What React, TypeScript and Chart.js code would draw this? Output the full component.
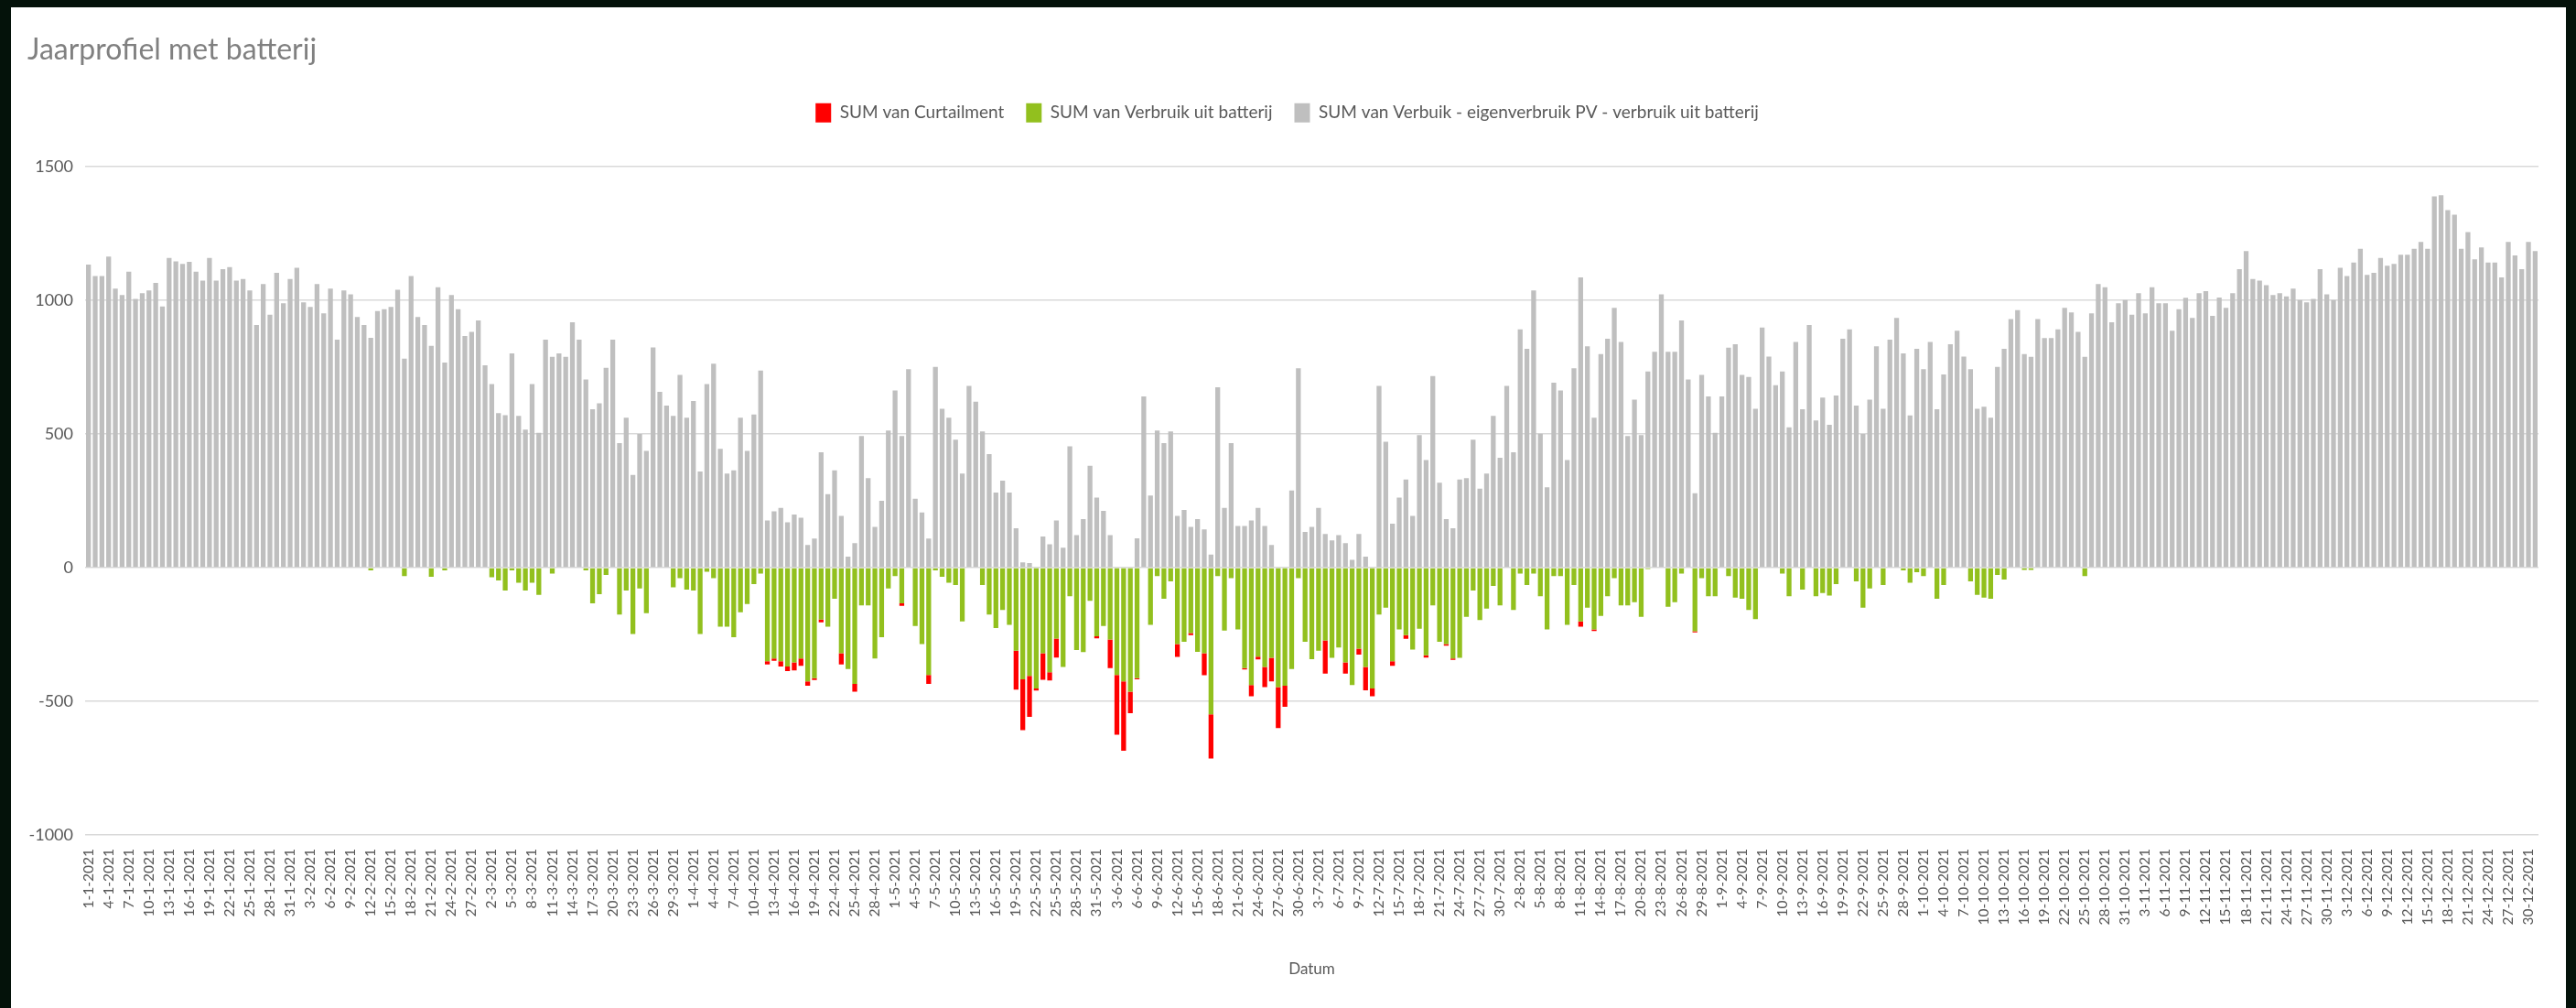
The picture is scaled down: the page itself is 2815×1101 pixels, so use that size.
import { useEffect, useRef } from 'react';
import { Chart, registerables } from 'chart.js';

Chart.register(...registerables);

const CHART_TITLE = 'Jaarprofiel met batterij';
const X_TITLE = 'Datum';
const NAME_BATTERY = 'SUM van Verbruik uit batterij';
const NAME_CURTAIL = 'SUM van Curtailment';
const NAME_GRID = 'SUM van Verbuik - eigenverbruik PV - verbruik uit batterij';

const Y_MIN = -1000;
const Y_MAX = 1500;
const Y_STEP = 500;

const YEAR = 2021;
const MONTH_LENGTHS = [31, 28, 31, 30, 31, 30, 31, 31, 30, 31, 30, 31];
const DATES: string[] = [];
MONTH_LENGTHS.forEach((n, m) => {
  for (let d = 1; d <= n; d++) DATES.push(`${d}-${m + 1}-${YEAR}`);
});

// Grey: Verbruik - eigenverbruik PV - verbruik uit batterij (one value per day)
const GRID_USE: number[] = [
  1134, 1091, 1091, 1164, 1044, 1020, 1108, 1006, 1027, 1037, // 0
  1066, 977, 1159, 1146, 1137, 1144, 1108, 1074, 1159, 1074, // 10
  1117, 1125, 1074, 1080, 1037, 908, 1061, 947, 1103, 989, // 20
  1080, 1122, 993, 976, 1061, 952, 1044, 853, 1037, 1023, // 30
  938, 908, 860, 960, 967, 976, 1040, 782, 1091, 938, // 40
  908, 830, 1049, 768, 1020, 967, 867, 882, 925, 757, // 50
  687, 578, 571, 802, 568, 517, 687, 505, 853, 789, // 60
  802, 789, 918, 853, 704, 593, 615, 748, 853, 466, // 70
  561, 347, 500, 437, 824, 658, 607, 568, 721, 561, // 80
  624, 360, 687, 763, 445, 352, 364, 561, 437, 573, // 90
  738, 177, 211, 224, 170, 199, 187, 85, 109, 432, // 100
  275, 364, 194, 41, 92, 493, 335, 153, 250, 513, // 110
  663, 493, 743, 258, 207, 109, 751, 595, 561, 479, // 120
  352, 680, 621, 510, 425, 281, 326, 281, 148, 20, // 130
  17, 3, 117, 88, 177, 75, 454, 122, 182, 381, // 140
  262, 213, 122, 0, 0, 0, 110, 641, 270, 513, // 150
  466, 510, 194, 216, 153, 182, 143, 49, 675, 224, // 160
  466, 156, 156, 177, 224, 156, 85, 3, 0, 289, // 170
  746, 134, 153, 224, 126, 102, 122, 92, 29, 126, // 180
  41, 3, 680, 471, 165, 262, 330, 194, 496, 403, // 190
  717, 318, 182, 148, 330, 335, 479, 296, 352, 568, // 200
  411, 680, 432, 892, 819, 1037, 501, 301, 692, 663, // 210
  403, 746, 1086, 828, 561, 799, 857, 972, 845, 493, // 220
  629, 496, 734, 808, 1023, 808, 808, 925, 704, 279, // 230
  721, 641, 505, 641, 823, 836, 721, 714, 595, 899, // 240
  790, 683, 734, 525, 845, 593, 908, 551, 637, 535, // 250
  644, 857, 892, 607, 500, 629, 828, 595, 853, 935, // 260
  802, 570, 819, 743, 845, 593, 723, 836, 887, 790, // 270
  743, 595, 602, 561, 751, 819, 930, 964, 799, 789, // 280
  930, 859, 859, 892, 972, 955, 882, 789, 952, 1061, // 290
  1049, 918, 989, 1001, 947, 1027, 952, 1049, 989, 989, // 300
  887, 967, 1010, 935, 1027, 1035, 942, 1011, 972, 1027, // 310
  1117, 1185, 1080, 1074, 1057, 1020, 1027, 1015, 1044, 1001, // 320
  993, 1006, 1117, 1023, 1001, 1122, 1091, 1142, 1193, 1096, // 330
  1103, 1159, 1130, 1137, 1171, 1171, 1193, 1219, 1193, 1389, // 340
  1394, 1338, 1321, 1193, 1256, 1154, 1198, 1142, 1142, 1086, // 350
  1219, 1168, 1117, 1219, 1185, // 360
];

// Green: Verbruik uit batterij (negative)
const BATTERY: number[] = [
  0, 0, 0, 0, 0, 0, 0, 0, 0, 0, // 0
  0, 0, 0, 0, 0, 0, 0, 0, 0, 0, // 10
  0, 0, 0, 0, 0, 0, 0, 0, 0, 0, // 20
  0, 0, 0, 0, 0, 0, 0, 0, 0, 0, // 30
  0, 0, -10, 0, 0, 0, 0, -31, 0, 0, // 40
  0, -34, 0, -10, 0, 0, 0, 0, 0, 0, // 50
  -36, -48, -85, -10, -56, -85, -56, -102, 0, -22, // 60
  0, 0, 0, 0, -10, -133, -99, -27, 0, -175, // 70
  -85, -248, -78, -170, 0, 0, 0, -73, -39, -82, // 80
  -85, -248, -15, -39, -221, -221, -260, -167, -136, -61, // 90
  -22, -350, -340, -350, -370, -354, -340, -425, -413, -194, // 100
  -221, -116, -320, -379, -435, -141, -141, -340, -260, -78, // 110
  -31, -133, 0, -218, -286, -401, -10, -34, -56, -65, // 120
  -201, 0, 0, -65, -175, -226, -158, -214, -311, -418, // 130
  -405, -452, -320, -391, -265, -371, -107, -308, -316, -124, // 140
  -257, -218, -269, -401, -425, -464, -413, 0, -214, -31, // 150
  -116, -51, -286, -277, -245, -315, -320, -549, -31, -235, // 160
  -39, -231, -376, -439, -333, -371, -337, -447, -442, -379, // 170
  -39, -277, -342, -311, -272, -337, -299, -354, -439, -303, // 180
  -371, -452, -175, -150, -350, -231, -252, -306, -228, -328, // 190
  -141, -277, -286, -340, -337, -184, -85, -196, -153, -68, // 200
  -141, 0, -158, -22, -65, -22, -107, -231, -31, -31, // 210
  -214, -65, -201, -150, -231, -180, -107, -39, -141, -141, // 220
  -129, -184, -5, 0, 0, -146, -129, -22, 0, -238, // 230
  -39, -107, -107, 0, -31, -112, -116, -158, -192, 0, // 240
  0, 0, -22, -107, 0, -82, 0, -107, -95, -104, // 250
  -61, 0, 0, -51, -150, -78, 0, -65, 0, 0, // 260
  -10, -56, -17, -31, 0, -116, -65, 0, 0, 0, // 270
  -51, -102, -112, -116, -27, -44, 0, 0, -8, -8, // 280
  0, 0, 0, 0, 0, 0, 0, -31, 0, 0, // 290
  0, 0, 0, 0, 0, 0, 0, 0, 0, 0, // 300
  0, 0, 0, 0, 0, 0, 0, 0, 0, 0, // 310
  0, 0, 0, 0, 0, 0, 0, 0, 0, 0, // 320
  0, 0, 0, 0, 0, 0, 0, 0, 0, 0, // 330
  0, 0, 0, 0, 0, 0, 0, 0, 0, 0, // 340
  0, 0, 0, 0, 0, 0, 0, 0, 0, 0, // 350
  0, 0, 0, 0, 0, // 360
];

// Red: Curtailment (negative, stacked below the battery bars)
const CURTAILMENT: number[] = [
  0, 0, 0, 0, 0, 0, 0, 0, 0, 0, // 0
  0, 0, 0, 0, 0, 0, 0, 0, 0, 0, // 10
  0, 0, 0, 0, 0, 0, 0, 0, 0, 0, // 20
  0, 0, 0, 0, 0, 0, 0, 0, 0, 0, // 30
  0, 0, 0, 0, 0, 0, 0, 0, 0, 0, // 40
  0, 0, 0, 0, 0, 0, 0, 0, 0, 0, // 50
  0, 0, 0, 0, 0, 0, 0, 0, 0, 0, // 60
  0, 0, 0, 0, 0, 0, 0, 0, 0, 0, // 70
  0, 0, 0, 0, 0, 0, 0, 0, 0, 0, // 80
  0, 0, 0, 0, 0, 0, 0, 0, 0, 0, // 90
  0, -12, -8, -20, -17, -30, -27, -17, -7, -10, // 100
  0, 0, -42, 0, -29, 0, 0, 0, 0, 0, // 110
  0, -10, 0, 0, 0, -34, 0, 0, 0, 0, // 120
  0, 0, 0, 0, 0, 0, 0, 0, -145, -190, // 130
  -153, -8, -99, -31, -71, 0, 0, 0, 0, 0, // 140
  -7, 0, -107, -224, -260, -80, -5, 0, 0, 0, // 150
  0, 0, -48, 0, -7, 0, -82, -165, 0, 0, // 160
  0, 0, -5, -42, -10, -76, -88, -153, -78, 0, // 170
  0, 0, 0, 0, -124, 0, 0, -42, 0, -22, // 180
  -88, -29, 0, 0, -17, 0, -14, 0, 0, -8, // 190
  0, 0, -6, -5, 0, 0, 0, 0, 0, 0, // 200
  0, 0, 0, 0, 0, 0, 0, 0, 0, 0, // 210
  0, 0, -20, 0, -6, 0, 0, 0, 0, 0, // 220
  0, 0, 0, 0, 0, 0, 0, 0, 0, -4, // 230
  0, 0, 0, 0, 0, 0, 0, 0, 0, 0, // 240
  0, 0, 0, 0, 0, 0, 0, 0, 0, 0, // 250
  0, 0, 0, 0, 0, 0, 0, 0, 0, 0, // 260
  0, 0, 0, 0, 0, 0, 0, 0, 0, 0, // 270
  0, 0, 0, 0, 0, 0, 0, 0, 0, 0, // 280
  0, 0, 0, 0, 0, 0, 0, 0, 0, 0, // 290
  0, 0, 0, 0, 0, 0, 0, 0, 0, 0, // 300
  0, 0, 0, 0, 0, 0, 0, 0, 0, 0, // 310
  0, 0, 0, 0, 0, 0, 0, 0, 0, 0, // 320
  0, 0, 0, 0, 0, 0, 0, 0, 0, 0, // 330
  0, 0, 0, 0, 0, 0, 0, 0, 0, 0, // 340
  0, 0, 0, 0, 0, 0, 0, 0, 0, 0, // 350
  0, 0, 0, 0, 0, // 360
];

// legend order: Curtailment, Verbruik uit batterij, grey series
const LEGEND_RANK = [1, 0, 2];

const FONT = 'Lato, "Open Sans", "DejaVu Sans", sans-serif';
const TEXT = '#595959';

const CANVAS_W = 2792;
const CANVAS_H = 1093;

export default function App() {
  const ref = useRef<HTMLCanvasElement>(null);

  useEffect(() => {
    const canvas = ref.current;
    if (!canvas) return;

    const legendGap = {
      id: 'legendGap',
      beforeInit(chart: any) {
        const lg = chart.legend;
        if (!lg) return;
        const fit = lg.fit;
        lg.fit = function () {
          fit.call(this);
          this.height += 38.5;
        };
      },
    };

    const chart = new Chart(canvas, {
      type: 'bar',
      data: {
        labels: DATES,
        datasets: [
          { label: NAME_BATTERY, data: BATTERY, backgroundColor: '#92c01e', stack: 's' },
          { label: NAME_CURTAIL, data: CURTAILMENT, backgroundColor: '#ff0000', stack: 's' },
          { label: NAME_GRID, data: GRID_USE, backgroundColor: '#bfbfbf', stack: 's' },
        ],
      },
      options: {
        responsive: false,
        maintainAspectRatio: false,
        animation: false,
        devicePixelRatio: 1,
        events: [],
        layout: { padding: { left: 18, right: 21, top: 0, bottom: 0 } },
        datasets: { bar: { barPercentage: 0.72, categoryPercentage: 1, borderWidth: 0 } },
        plugins: {
          title: {
            display: true,
            text: CHART_TITLE,
            align: 'start',
            color: '#808080',
            font: { family: FONT, size: 32, weight: 'normal' },
            padding: { top: 27.3, bottom: 15 },
          },
          legend: {
            display: true,
            position: 'top',
            align: 'center',
            labels: {
              boxWidth: 17,
              boxHeight: 21,
              padding: 24,
              color: TEXT,
              font: { family: FONT, size: 19 },
              sort: (a: any, b: any) => LEGEND_RANK[a.datasetIndex] - LEGEND_RANK[b.datasetIndex],
            },
          },
          tooltip: { enabled: false },
        },
        scales: {
          x: {
            stacked: true,
            grid: { display: false, drawTicks: false },
            border: { display: false },
            ticks: {
              autoSkip: false,
              minRotation: 90,
              maxRotation: 90,
              padding: 15,
              color: TEXT,
              font: { family: FONT, size: 15.5 },
              callback: (_v: any, i: number) => (i % 3 === 0 ? DATES[i] : ''),
            },
            title: {
              display: true,
              text: X_TITLE,
              color: TEXT,
              font: { family: FONT, size: 17 },
              padding: { top: 0, bottom: 32 },
            },
            afterFit: (s: any) => {
              s.height = 189;
            },
          },
          y: {
            stacked: true,
            min: Y_MIN,
            max: Y_MAX,
            ticks: {
              stepSize: Y_STEP,
              padding: 13,
              color: TEXT,
              font: { family: FONT, size: 18 },
              callback: (v: any) => String(v),
            },
            grid: { color: '#d9d9d9', lineWidth: 1.5, drawTicks: false },
            border: { display: false },
            afterFit: (s: any) => {
              s.width = 63;
            },
          },
        },
      },
      plugins: [legendGap],
    } as any);

    return () => chart.destroy();
  }, []);

  return (
    <div style={{ position: 'fixed', left: 0, top: 0, width: 2815, height: 1101, background: '#04120a', overflow: 'hidden' }}>
      <div style={{ position: 'absolute', left: 12, top: 8, width: CANVAS_W, height: CANVAS_H, background: '#ffffff' }}>
        <canvas ref={ref} width={CANVAS_W} height={CANVAS_H} style={{ display: 'block', width: CANVAS_W, height: CANVAS_H }} />
      </div>
    </div>
  );
}
